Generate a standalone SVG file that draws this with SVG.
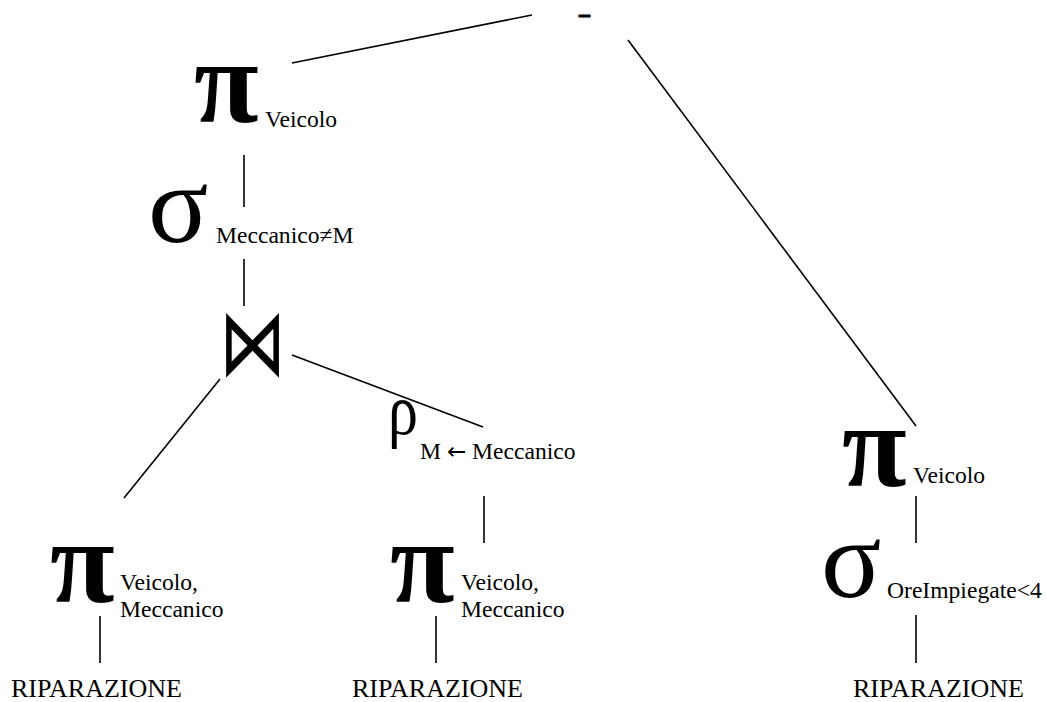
<svg xmlns="http://www.w3.org/2000/svg" width="1047" height="702" viewBox="0 0 1047 702">
<style>
  text { font-family: "Liberation Serif", "Times New Roman", serif; fill: #000; }
  .pi { font-size: 118px; font-weight: bold; }
  .sigma { font-size: 112px; }
  .rho { font-size: 72px; }
  .join { font-family: "DejaVu Sans", sans-serif; font-size: 80px; }
  .sub { font-size: 23.6px; }
  .rel { font-size: 26px; }
  .minus { font-size: 24px; font-weight: bold; stroke: #000; stroke-width: 1.2; }
  .edge { stroke: #000; stroke-width: 1.6; fill: none; }
</style>
<rect width="1047" height="702" fill="#fff"/>
<g id="connectors">
  <line class="edge" x1="292" y1="63" x2="532" y2="15"/>
  <line class="edge" x1="628" y1="40" x2="916" y2="426"/>
  <line class="edge" x1="244" y1="155" x2="244" y2="207"/>
  <line class="edge" x1="244" y1="259" x2="244" y2="306"/>
  <line class="edge" x1="292" y1="355" x2="483" y2="427"/>
  <line class="edge" x1="220" y1="379" x2="124" y2="498"/>
  <line class="edge" x1="484" y1="496" x2="484" y2="543"/>
  <line class="edge" x1="100" y1="616" x2="100" y2="663"/>
  <line class="edge" x1="436" y1="616" x2="436" y2="663"/>
  <line class="edge" x1="916" y1="496" x2="916" y2="543"/>
  <line class="edge" x1="916" y1="615" x2="916" y2="663"/>
</g>
<g id="node-minus">
  <text class="minus" x="578" y="21.5" textLength="13" lengthAdjust="spacingAndGlyphs">-</text>
</g>
<g id="node-pi-top">
  <text class="pi" x="194" y="122">π</text>
  <text class="sub" x="265" y="127">Veicolo</text>
</g>
<g id="node-sigma-top">
  <text class="sigma" x="148" y="242">σ</text>
  <text class="sub" x="216" y="243">Meccanico≠M</text>
</g>
<g id="node-join">
  <text class="join" transform="translate(219,375) scale(0.84,1.18)" x="0" y="0">⋈</text>
</g>
<g id="node-rho">
  <text class="rho" x="388" y="434" textLength="30" lengthAdjust="spacingAndGlyphs">ρ</text>
  <text class="sub" x="420" y="459">M <tspan font-family="DejaVu Sans, sans-serif" font-size="23">←</tspan> Meccanico</text>
</g>
<g id="node-pi-left">
  <text class="pi" x="50" y="602">π</text>
  <text class="sub" x="120" y="590">Veicolo,</text>
  <text class="sub" x="120" y="617">Meccanico</text>
</g>
<g id="node-pi-mid">
  <text class="pi" x="390" y="602">π</text>
  <text class="sub" x="461" y="590">Veicolo,</text>
  <text class="sub" x="461" y="617">Meccanico</text>
</g>
<g id="node-pi-right">
  <text class="pi" x="842" y="486">π</text>
  <text class="sub" x="913" y="483">Veicolo</text>
</g>
<g id="node-sigma-right">
  <text class="sigma" x="821" y="597">σ</text>
  <text class="sub" x="887" y="598">OreImpiegate&lt;4</text>
</g>
<g id="node-rel-left">
  <text class="rel" x="11" y="697">RIPARAZIONE</text>
</g>
<g id="node-rel-mid">
  <text class="rel" x="352" y="697">RIPARAZIONE</text>
</g>
<g id="node-rel-right">
  <text class="rel" x="853" y="697">RIPARAZIONE</text>
</g>
</svg>
